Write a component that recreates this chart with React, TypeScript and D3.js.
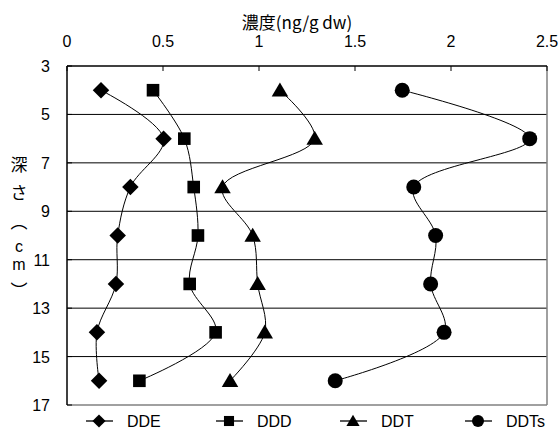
import React from "react";
import * as d3 from "d3";

const depths = [4, 6, 8, 10, 12, 14, 16];
const seriesNames = ["DDE", "DDD", "DDT", "DDTs"];
const dde = [0.177, 0.503, 0.33, 0.264, 0.255, 0.156, 0.167];
const ddd = [0.448, 0.611, 0.66, 0.682, 0.639, 0.774, 0.377];
const ddt = [1.109, 1.29, 0.81, 0.967, 0.993, 1.03, 0.849];
const ddts = [1.746, 2.41, 1.806, 1.92, 1.894, 1.964, 1.397];
const xTicks = [0, 0.5, 1, 1.5, 2, 2.5];
const yTicks = [3, 5, 7, 9, 11, 13, 15, 17];
const xTitle = "濃度(ng/g dw)";
const yTitleChars = ["深", "さ", "︵", "c", "m", "︶"];

const W = 560;
const H = 438;
const L = 67, R = 547, T = 66, B = 405;

const font = "'Liberation Sans', Arial, sans-serif";
const jfont = "'Noto Sans CJK JP', sans-serif";

function Marker({ kind, x, y, s }: { kind: string; x: number; y: number; s: number }) {
  if (kind === "DDE") {
    const r = s * 0.55;
    return <path d={`M${x},${y - r}L${x + r},${y}L${x},${y + r}L${x - r},${y}Z`} fill="#000" />;
  }
  if (kind === "DDD") {
    const h = s * 0.42;
    return <rect x={x - h} y={y - h} width={2 * h} height={2 * h} fill="#000" />;
  }
  if (kind === "DDT") {
    const w = s * 0.55;
    return <path d={`M${x},${y - w * 0.95}L${x + w},${y + w * 0.75}L${x - w},${y + w * 0.75}Z`} fill="#000" />;
  }
  return <circle cx={x} cy={y} r={s * 0.5} fill="#000" />;
}

export default function App() {
  const x = d3.scaleLinear().domain([0, 2.5]).range([L, R]);
  const y = d3.scaleLinear().domain([3, 17]).range([T, B]);
  const data = [dde, ddd, ddt, ddts];
  const line = d3
    .line<[number, number]>()
    .x((d) => x(d[0]))
    .y((d) => y(d[1]))
    .curve(d3.curveCatmullRom.alpha(0.5));

  const legendX = [99, 229, 353, 478];

  return (
    <svg width={W} height={H} style={{ position: "absolute", left: 0, top: 0, background: "#fff" }}>
      <rect x={0} y={0} width={W} height={H} fill="#fff" />
      {yTicks.slice(1, -1).map((t) => (
        <line key={t} x1={L} x2={R} y1={y(t)} y2={y(t)} stroke="#000" strokeWidth={1} />
      ))}
      <line x1={R} x2={R} y1={T} y2={B} stroke="#808080" strokeWidth={1.5} />
      <line x1={L} x2={R} y1={B} y2={B} stroke="#808080" strokeWidth={1.5} />
      <line x1={L} x2={R} y1={T} y2={T} stroke="#000" strokeWidth={1.5} />
      <line x1={L} x2={L} y1={T} y2={B} stroke="#000" strokeWidth={1.5} />
      {xTicks.map((t) => (
        <g key={t}>
          <line x1={x(t)} x2={x(t)} y1={T} y2={T + 5} stroke="#000" />
          <text x={x(t)} y={T - 19} textAnchor="middle" fontFamily={font} fontSize={16}>
            {t}
          </text>
        </g>
      ))}
      {yTicks.map((t) => (
        <g key={t}>
          <line x1={L} x2={L + 5} y1={y(t)} y2={y(t)} stroke="#000" />
          <text x={L - 17} y={y(t) + 6} textAnchor="end" fontFamily={font} fontSize={16}>
            {t}
          </text>
        </g>
      ))}
      <text x={297} y={29} textAnchor="middle" fontFamily={jfont} fontSize={17}>
        {xTitle}
      </text>
      {yTitleChars.map((c, i) => {
        const ys = [165, 193, 222, 246, 264, 291];
        const latin = c === "c" || c === "m";
        return (
          <text
            key={i}
            x={19}
            y={ys[i] + 6}
            textAnchor="middle"
            fontFamily={latin ? font : jfont}
            fontSize={latin ? 16 : 17}
          >
            {c}
          </text>
        );
      })}
      {data.map((vals, si) => {
        const pts: [number, number][] = vals.map((v, i) => [v, depths[i]]);
        return (
          <g key={si}>
            <path d={line(pts) || ""} fill="none" stroke="#000" strokeWidth={1} />
            {pts.map((p, i) => (
              <Marker key={i} kind={seriesNames[si]} x={x(p[0])} y={y(p[1])} s={15} />
            ))}
          </g>
        );
      })}
      {seriesNames.map((n, i) => (
        <g key={n}>
          <line x1={legendX[i] - 13} x2={legendX[i] + 14} y1={421} y2={421} stroke="#000" strokeWidth={1.3} />
          <Marker kind={n} x={legendX[i]} y={421} s={12} />
          <text x={legendX[i] + 28} y={427} fontFamily={font} fontSize={16}>
            {n}
          </text>
        </g>
      ))}
    </svg>
  );
}
